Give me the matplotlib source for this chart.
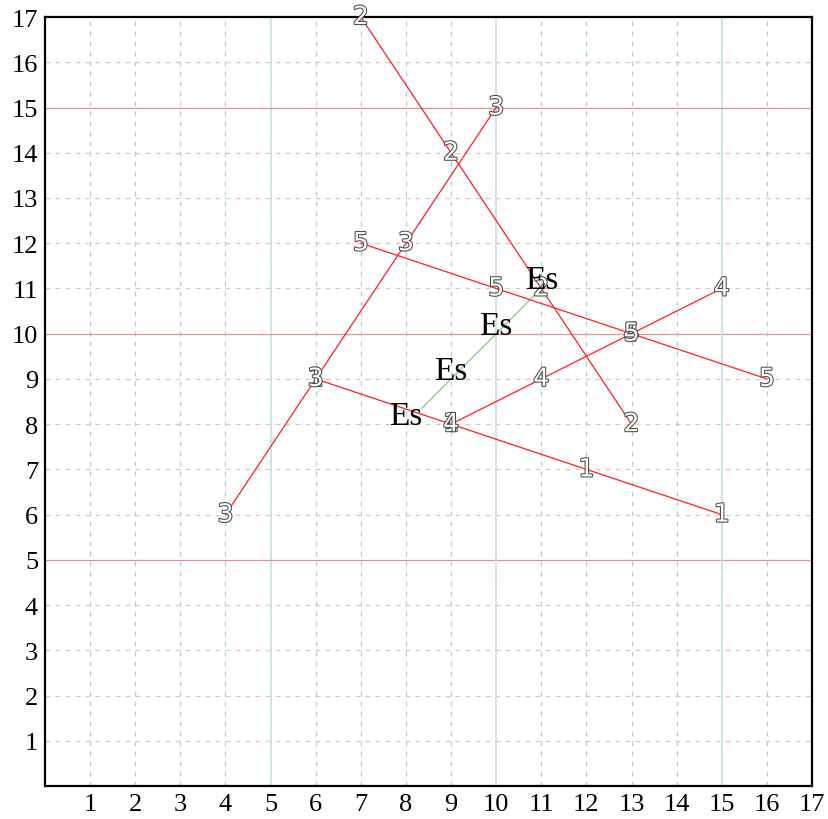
import matplotlib

matplotlib.use("Agg", force=True)
import matplotlib.pyplot as plt
import matplotlib.patheffects as pe

# series: (label, xs, ys)
s1_x = [6, 9, 12, 15]
s1_y = [9, 8, 7, 6]
s2_x = [7, 9, 11, 13]
s2_y = [17, 14, 11, 8]
s3_x = [4, 6, 8, 10]
s3_y = [6, 9, 12, 15]
s4_x = [9, 11, 13, 15]
s4_y = [8, 9, 10, 11]
s5_x = [7, 10, 13, 16]
s5_y = [12, 11, 10, 9]
series = [("1", s1_x, s1_y), ("2", s2_x, s2_y), ("3", s3_x, s3_y),
          ("4", s4_x, s4_y), ("5", s5_x, s5_y)]

es_x = [8, 9, 10, 11]
es_y = [8, 9, 10, 11]

ticks = list(range(1, 18))
major = [5, 10, 15]

plt.rcParams["font.family"] = ["Liberation Serif", "DejaVu Serif"]

fig = plt.figure(figsize=(8.29, 8.20), dpi=100)
ax = fig.add_axes([0.0543, 0.0402, 0.9252, 0.9378])
ax.set_xlim(0, 17)
ax.set_ylim(0, 17)

for v in range(1, 17):
    if v in major:
        ax.axvline(v, color="#c2dfe8", lw=1.2, zorder=1)
        ax.axhline(v, color="#e29494", lw=0.9, zorder=1)
    else:
        ax.axvline(v, color="#a8d2e0", lw=0.9, ls=(0, (4, 4)), zorder=1)
        ax.axhline(v, color="#edc0c0", lw=0.9, ls=(0, (4, 4)), zorder=1)

ax.annotate("", xy=(es_x[-1], es_y[-1]), xytext=(es_x[0], es_y[0]),
            arrowprops=dict(arrowstyle="-", color="#8fd08f", lw=1.0,
                            shrinkA=16, shrinkB=4), zorder=2)

for lab, xs, ys in series:
    ax.plot(xs, ys, color="#ff2020", lw=0.9, zorder=3)

outline = [pe.Stroke(linewidth=1.5, foreground="#4a4a4a"), pe.Normal()]
for lab, xs, ys in series:
    for x, y in zip(xs, ys):
        ax.text(x, y, lab, color="white", fontsize=18, family="DejaVu Sans",
                ha="center", va="center", path_effects=outline, zorder=4)

for x, y in zip(es_x, es_y):
    ax.text(x, y, "Es", color="black", fontsize=24, ha="center",
            va="baseline", zorder=5)

ax.set_xticks(ticks)
ax.set_yticks(ticks)
ax.tick_params(length=0, labelsize=19, pad=5)
for sp in ax.spines.values():
    sp.set_linewidth(1.6)
    sp.set_color("black")

fig.savefig("out.png", dpi=100)
